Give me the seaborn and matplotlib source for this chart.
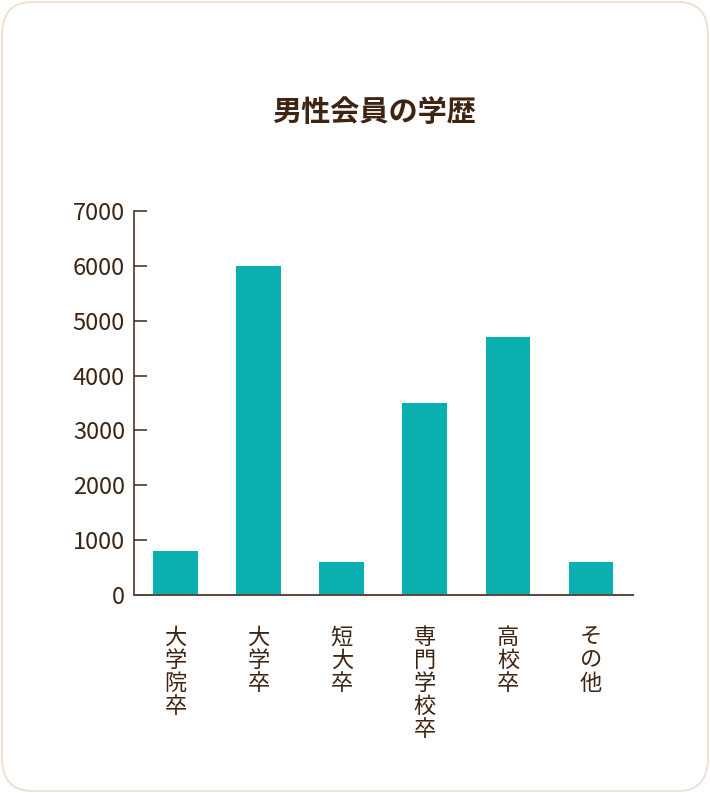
import matplotlib
matplotlib.use("Agg")
import matplotlib.pyplot as plt
from matplotlib.patches import FancyBboxPatch
import seaborn as sns
import pandas as pd

# données
categories = ["大学院卒", "大学卒", "短大卒", "専門学校卒", "高校卒", "その他"]
values = [800, 6000, 600, 3500, 4700, 600]
yticks = [0, 1000, 2000, 3000, 4000, 5000, 6000, 7000]

df = pd.DataFrame({"cat": categories, "val": values})

sns.set_style("white", {"ytick.left": True, "ytick.direction": "in"})
plt.rcParams["font.family"] = ["Noto Sans CJK JP", "DejaVu Sans"]
plt.rcParams["ytick.direction"] = "in"

text_col = "#3d2413"
bar_col = "#0aafaf"

fig = plt.figure(figsize=(7.1, 7.93), dpi=100)
ax = fig.add_axes([134 / 710, 198 / 793, 498.6 / 710, 384 / 793])

sns.barplot(data=df, x="cat", y="val", color=bar_col, width=0.54,
            saturation=1, ax=ax, edgecolor="none")

ax.set_xlim(-0.5, 5.5)
ax.set_ylim(0, 7000)
ax.set_yticks(yticks)
ax.set_yticklabels([str(v) for v in yticks], fontsize=17, color=text_col)
ax.tick_params(axis="y", left=True, direction="in", length=9.5, width=1.1,
               color=text_col, pad=6.5)
ax.tick_params(axis="x", bottom=False, length=0, pad=22)
ax.set_xticks(range(len(categories)))
ax.set_xticklabels(["\n".join(c) for c in categories], fontsize=16,
                   color=text_col, linespacing=1.0, va="top")
ax.set_xlabel("")
ax.set_ylabel("")

for s in ["top", "right"]:
    ax.spines[s].set_visible(False)
ax.spines["left"].set_color(text_col)
ax.spines["left"].set_linewidth(1.1)
ax.spines["bottom"].set_color("#5a4638")
ax.spines["bottom"].set_linewidth(1.4)

# titre
fig.text(374.5 / 710, 1 - 112 / 793, "男性会員の学歴", fontsize=21, fontweight="bold",
         color=text_col, ha="center", va="center")

# cadre arrondi
frame = FancyBboxPatch((2 / 710, 2 / 793), 706 / 710, 789 / 793,
                       boxstyle="round,pad=0,rounding_size=0.042",
                       transform=fig.transFigure, facecolor="none",
                       edgecolor="#f0ddd2", linewidth=1.3)
fig.patches.append(frame)

fig.savefig("out.png", dpi=100)
